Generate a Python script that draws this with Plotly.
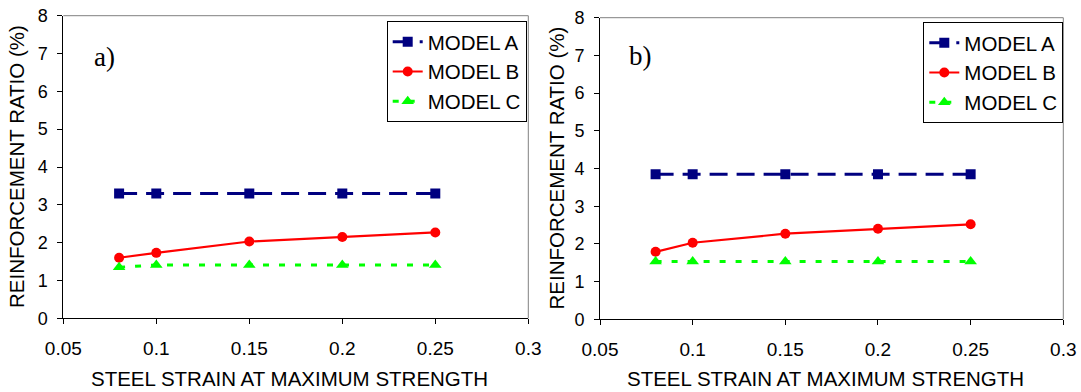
import plotly.graph_objects as go

# Steel strain at maximum strength (x) for every series
strain = [0.08, 0.10, 0.15, 0.20, 0.25]

# a) reinforcement ratio (%)
a_model_a = [3.30, 3.30, 3.30, 3.30, 3.30]
a_model_b = [1.60, 1.73, 2.03, 2.15, 2.27]
a_model_c = [1.35, 1.41, 1.41, 1.41, 1.41]

# b) reinforcement ratio (%)
b_model_a = [3.85, 3.85, 3.85, 3.85, 3.85]
b_model_b = [1.79, 2.03, 2.27, 2.40, 2.52]
b_model_c = [1.53, 1.53, 1.53, 1.53, 1.53]

x_tickvals = [0.05, 0.10, 0.15, 0.20, 0.25, 0.30]
x_ticktext = ["0.05", "0.1", "0.15", "0.2", "0.25", "0.3"]
y_tickvals = [0, 1, 2, 3, 4, 5, 6, 7, 8]

W, H = 1081, 392
SANS = "Arial, 'Liberation Sans', sans-serif"
SERIF = "'Times New Roman', 'Liberation Serif', serif"


def px_x(p):
    return p / W


def px_y(p):
    return 1 - p / H


styles = {
    "MODEL A": dict(line=dict(color="#000080", width=3, dash="18px,9px"),
                    marker=dict(symbol="square", size=10, color="#000080")),
    "MODEL B": dict(line=dict(color="#FF0000", width=2.2, dash="solid"),
                    marker=dict(symbol="circle", size=10, color="#FF0000")),
    "MODEL C": dict(line=dict(color="#00FF00", width=3, dash="6px,10px"),
                    marker=dict(symbol="triangle-up", size=11, color="#00FF00")),
}

fig = go.Figure()

panels = [
    ("x", "y", "legend", [a_model_a, a_model_b, a_model_c]),
    ("x2", "y2", "legend2", [b_model_a, b_model_b, b_model_c]),
]
for xa, ya, lg, series in panels:
    for name, vals in zip(["MODEL A", "MODEL B", "MODEL C"], series):
        fig.add_trace(go.Scatter(
            x=strain, y=vals, name=name, mode="lines+markers",
            xaxis=xa, yaxis=ya, legend=lg, **styles[name]))

# plot-area pixel boxes: (left, right, top, bottom)
box_a = (63.3, 528.3, 15.7, 318.3)
box_b = (600.0, 1063.3, 17.7, 319.3)

common_x = dict(range=[0.05, 0.3], tickvals=x_tickvals, ticktext=x_ticktext,
                showgrid=False, zeroline=False, showline=True, linecolor="#000000",
                linewidth=1, ticks="outside", ticklen=5, tickcolor="#000000",
                tickfont=dict(family=SANS, size=19, color="#000000"),
                ticklabelstandoff=8, automargin=False)
common_y = dict(range=[0, 8], tickvals=y_tickvals, showgrid=False, zeroline=False,
                showline=True, linecolor="#000000", linewidth=1, ticks="outside",
                ticklen=5, tickcolor="#000000",
                tickfont=dict(family=SANS, size=18, color="#000000"),
                ticklabelstandoff=6, automargin=False)

legend_common = dict(bgcolor="#FFFFFF", bordercolor="#000000", borderwidth=1,
                     font=dict(family=SANS, size=20.5, color="#000000"),
                     xanchor="left", yanchor="top", tracegroupgap=0,
                     itemwidth=30)

fig.update_layout(
    width=W, height=H, margin=dict(l=0, r=0, t=0, b=0, autoexpand=False),
    paper_bgcolor="#FFFFFF", plot_bgcolor="#FFFFFF",
    xaxis=dict(domain=[px_x(box_a[0]), px_x(box_a[1])], anchor="y", **common_x),
    yaxis=dict(domain=[px_y(box_a[3]), px_y(box_a[2])], anchor="x", **common_y),
    xaxis2=dict(domain=[px_x(box_b[0]), px_x(box_b[1])], anchor="y2", **common_x),
    yaxis2=dict(domain=[px_y(box_b[3]), px_y(box_b[2])], anchor="x2", **common_y),
    legend=dict(x=px_x(386.7), y=px_y(21), **legend_common),
    legend2=dict(x=px_x(923.3), y=px_y(22), **legend_common),
    showlegend=True,
)

# gray top and right frame edges
for xa, ya in (("x", "y"), ("x2", "y2")):
    fig.add_shape(type="line", xref=f"{xa} domain", yref=f"{ya} domain",
                  x0=0, x1=1, y0=1, y1=1, line=dict(color="#808080", width=1))
    fig.add_shape(type="line", xref=f"{xa} domain", yref=f"{ya} domain",
                  x0=1, x1=1, y0=0, y1=1, line=dict(color="#808080", width=1))

# panel letters
fig.add_annotation(text="a)", xref="paper", yref="paper", x=px_x(92), y=px_y(57),
                   xanchor="left", yanchor="middle", showarrow=False,
                   font=dict(family=SERIF, size=27, color="#000000"))
fig.add_annotation(text="b)", xref="paper", yref="paper", x=px_x(627), y=px_y(56),
                   xanchor="left", yanchor="middle", showarrow=False,
                   font=dict(family=SERIF, size=27, color="#000000"))

# axis titles
for box, ycx in ((box_a, 17), (box_b, 556)):
    fig.add_annotation(text="REINFORCEMENT RATIO (%)", xref="paper", yref="paper",
                       x=px_x(ycx), y=px_y((box[2] + box[3]) / 2), textangle=-90,
                       xanchor="center", yanchor="middle", showarrow=False,
                       font=dict(family=SANS, size=20.5, color="#000000"))
    fig.add_annotation(text="STEEL STRAIN AT MAXIMUM STRENGTH", xref="paper", yref="paper",
                       x=px_x((box[0] + box[1]) / 2 - 6), y=px_y(378),
                       xanchor="center", yanchor="middle", showarrow=False,
                       font=dict(family=SANS, size=20.5, color="#000000"))

fig.write_html("out.html")
